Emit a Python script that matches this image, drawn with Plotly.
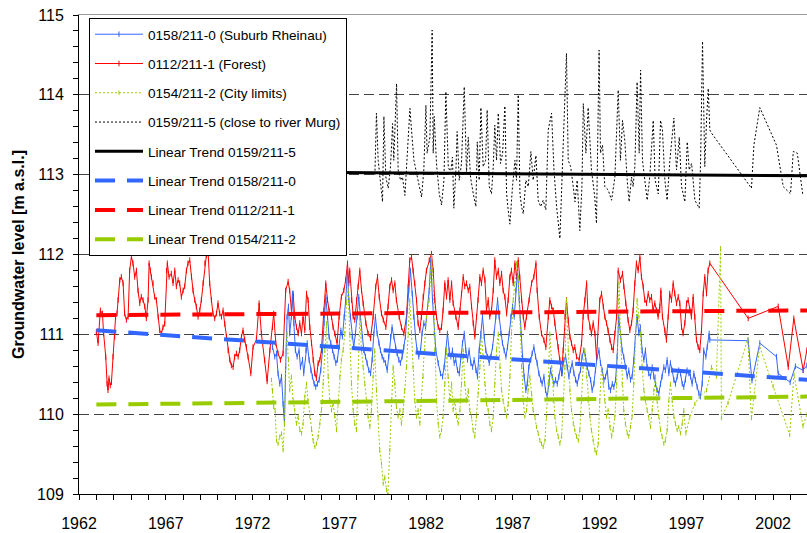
import plotly.graph_objects as go

# ---------------- data ----------------
red_years = [1963.00,1963.10,1963.23,1963.35,1963.42,1963.54,1963.62,1963.67,1963.73,1963.80,1963.87,1963.96,
 1964.06,1964.11,1964.19,1964.25,1964.35,1964.44,1964.54,1964.63,1964.73,1964.83,1964.92,
 1965.02,1965.11,1965.21,1965.31,1965.40,1965.50,1965.59,1965.69,1965.79,1965.88,1965.98,
 1966.04,1966.11,1966.17,1966.27,1966.36,1966.46,1966.56,1966.65,1966.75,1966.84,1966.94,
 1967.04,1967.09,1967.19,1967.32,1967.42,1967.52,1967.61,1967.71,1967.80,1967.90,
 1968.00,1968.09,1968.19,1968.28,1968.38,1968.48,1968.57,1968.67,1968.76,1968.86,1968.96,
 1969.05,1969.15,1969.25,1969.34,1969.44,1969.53,1969.63,1969.72,1969.82,1969.92,
 1970.01,1970.11,1970.21,1970.30,1970.40,1970.49,1970.59,1970.69,1970.78,1970.88,1970.97,
 1971.07,1971.17,1971.26,1971.36,1971.45,1971.55,1971.65,1971.74,1971.90,
 1972.03,1972.22,1972.38,1972.51,1972.70,1972.84,1973.00,1973.15,1973.22,1973.34,1973.47,1973.61,1973.76,1973.91,
 1974.05,1974.14,1974.24,1974.34,1974.43,1974.53,1974.63,1974.72,1974.82,1974.91,
 1975.01,1975.11,1975.20,1975.30,1975.40,1975.49,1975.59,1975.68,1975.78,1975.88,1975.97,
 1976.11,1976.22,1976.32,1976.41,1976.55,1976.64,1976.74,1976.87,1976.99,
 1977.12,1977.26,1977.37,1977.47,1977.55,1977.60,1977.70,1977.80,1977.89,1977.99,
 1978.08,1978.18,1978.28,1978.37,1978.53,1978.66,1978.80,1978.95,
 1979.10,1979.20,1979.30,1979.43,1979.53,1979.68,1979.81,1979.91,
 1980.01,1980.10,1980.20,1980.29,1980.45,1980.58,1980.72,1980.87,1980.97,
 1981.06,1981.16,1981.25,1981.35,1981.45,1981.54,1981.64,1981.73,1981.83,1981.93,
 1982.02,1982.18,1982.31,1982.41,1982.50,1982.60,1982.70,1982.79,1982.89,1982.98,
 1983.08,1983.18,1983.27,1983.37,1983.47,1983.56,1983.71,1983.85,1983.95,
 1984.04,1984.14,1984.23,1984.33,1984.43,1984.52,1984.62,1984.71,1984.81,1984.91,
 1985.00,1985.10,1985.19,1985.29,1985.39,1985.48,1985.58,1985.67,1985.77,1985.87,1985.96,
 1986.06,1986.16,1986.25,1986.35,1986.44,1986.54,1986.64,1986.73,1986.83,1986.92,
 1987.02,1987.12,1987.21,1987.31,1987.40,1987.50,1987.60,1987.69,1987.79,1987.94,
 1988.08,1988.21,1988.33,1988.40,1988.52,1988.65,1988.79,1988.90,
 1989.04,1989.13,1989.23,1989.33,1989.42,1989.52,1989.61,1989.71,1989.81,1989.90,
 1990.00,1990.09,1990.19,1990.29,1990.38,1990.48,1990.57,1990.67,1990.82,1990.96,
 1991.05,1991.15,1991.25,1991.34,1991.44,1991.53,1991.63,1991.73,1991.82,
 1992.01,1992.11,1992.21,1992.30,1992.40,1992.49,1992.59,1992.69,1992.78,1992.88,1992.98,
 1993.07,1993.20,1993.32,1993.39,1993.51,1993.64,1993.74,1993.84,1993.93,
 1994.03,1994.12,1994.22,1994.32,1994.41,1994.51,1994.60,1994.70,1994.80,1994.89,1994.99,
 1995.08,1995.18,1995.28,1995.37,1995.47,1995.53,1995.62,1995.76,1995.85,1995.95,
 1996.04,1996.14,1996.24,1996.33,1996.43,1996.53,1996.62,1996.72,1996.81,1996.91,
 1997.01,1997.10,1997.20,1997.29,1997.39,1997.49,1997.58,1997.68,1997.77,1997.87,1997.97,
 1998.06,1998.16,1998.25,1998.35,
 2000.56,2002.29,2002.87,2003.19,2003.73,2003.94]
red_vals = [111.03,110.89,111.30,111.26,111.01,110.72,110.38,110.30,110.45,110.36,110.40,110.72,
 110.97,111.22,111.26,111.43,111.68,111.72,111.64,111.26,111.18,111.22,111.80,
 111.97,111.89,111.72,111.80,111.55,111.39,111.47,111.43,111.35,111.20,111.43,
 111.89,111.80,111.72,111.64,111.47,111.43,111.22,111.05,111.01,111.09,111.13,
 111.80,111.89,111.72,111.76,111.64,111.80,111.60,111.68,111.64,111.47,
 111.55,111.60,111.80,111.89,111.93,111.72,111.55,111.43,111.35,111.22,111.30,
 111.43,111.64,111.89,111.99,112.03,111.64,111.43,111.26,111.20,111.26,
 111.39,111.26,111.22,111.30,111.13,110.97,110.80,110.68,110.61,110.59,110.72,
 110.76,110.72,110.80,110.97,111.05,110.93,110.84,110.72,110.51,
 110.84,110.93,111.39,111.01,110.68,110.41,110.80,111.09,111.26,110.89,110.76,110.68,110.76,111.55,
 111.66,111.55,111.30,111.51,111.22,111.09,111.01,111.14,111.01,111.22,
 111.05,111.51,111.43,111.09,110.89,110.68,110.51,110.45,110.64,110.68,110.80,
 111.30,111.64,111.43,111.30,111.22,111.09,111.01,110.89,111.22,
 111.47,111.55,111.68,111.89,111.64,111.80,111.43,111.22,111.18,111.43,
 111.60,111.80,111.55,111.39,111.14,111.01,110.95,111.22,
 111.60,111.72,111.47,111.26,111.18,111.09,111.35,111.60,
 111.68,111.55,111.64,111.43,111.22,111.09,111.01,111.22,111.60,
 111.93,111.97,111.80,111.64,111.43,111.14,111.05,111.22,111.47,111.64,
 111.80,111.93,112.01,111.80,111.43,111.22,111.09,111.05,111.09,111.30,
 111.64,111.47,111.68,111.43,111.64,111.39,111.22,111.09,111.30,
 111.51,111.72,111.60,111.64,111.55,111.60,111.35,111.14,110.97,111.22,
 111.43,111.72,111.64,111.80,111.68,111.30,111.43,111.22,111.30,111.55,111.93,
 111.72,111.80,111.64,111.76,111.55,111.47,111.26,111.43,111.72,111.80,
 111.64,111.89,111.72,111.93,111.72,111.43,111.22,111.09,111.22,111.43,
 111.64,111.72,111.89,111.55,111.22,111.01,110.93,110.84,
 111.22,111.43,111.35,111.30,111.14,110.97,110.84,110.68,110.51,110.80,
 111.22,111.43,111.18,110.97,110.89,110.80,110.84,110.72,110.68,110.89,
 111.22,111.43,111.64,111.22,111.09,111.01,111.14,111.01,110.70,
 111.43,111.51,111.35,111.22,111.14,111.05,110.93,110.84,110.80,111.01,111.22,
 111.80,111.68,111.76,111.60,111.39,111.18,111.05,111.14,111.30,
 111.64,111.89,111.80,111.97,111.72,111.60,111.43,111.39,111.51,111.43,111.47,
 111.30,111.39,111.30,111.22,111.35,111.55,111.22,111.05,110.93,111.22,
 111.51,111.43,111.64,111.51,111.39,111.47,111.39,111.09,111.01,111.14,
 111.39,111.43,111.30,111.22,111.47,111.22,110.93,110.84,110.80,111.05,111.51,
 111.72,111.51,111.80,111.89,
 111.20,111.35,110.59,111.20,110.55,110.80]

blue_years = [1973.15,1973.28,1973.38,1973.47,1973.57,1973.67,1973.76,1973.84,1973.91,1973.99,
 1974.07,1974.14,1974.24,1974.30,1974.38,1974.47,1974.57,1974.68,1974.76,1974.88,1974.95,
 1975.07,1975.15,1975.26,1975.36,1975.45,1975.55,1975.64,1975.74,1975.84,1975.93,
 1976.03,1976.12,1976.22,1976.32,1976.41,1976.51,1976.61,1976.70,1976.80,1976.89,1976.99,
 1977.09,1977.18,1977.28,1977.37,1977.47,1977.55,1977.64,1977.74,1977.83,1977.93,
 1978.03,1978.12,1978.22,1978.32,1978.41,1978.51,1978.60,1978.70,1978.80,1978.89,1978.99,
 1979.08,1979.18,1979.28,1979.37,1979.47,1979.56,1979.66,1979.76,1979.85,1979.95,
 1980.04,1980.14,1980.24,1980.33,1980.43,1980.52,1980.62,1980.72,1980.81,1980.91,
 1981.00,1981.10,1981.20,1981.29,1981.39,1981.48,1981.58,1981.68,1981.77,1981.87,1981.97,
 1982.18,1982.27,1982.37,1982.47,1982.56,1982.70,1982.83,1982.95,
 1983.04,1983.14,1983.23,1983.33,1983.43,1983.52,1983.62,1983.71,1983.81,1983.91,
 1984.00,1984.10,1984.20,1984.29,1984.39,1984.48,1984.58,1984.68,1984.77,1984.87,1984.96,
 1985.06,1985.16,1985.25,1985.35,1985.44,1985.54,1985.64,1985.73,1985.83,1985.92,
 1986.02,1986.12,1986.21,1986.31,1986.40,1986.50,1986.60,1986.69,1986.79,1986.88,1986.98,
 1987.08,1987.17,1987.27,1987.37,1987.46,1987.56,1987.65,1987.75,1987.83,1987.92,
 1988.02,1988.11,1988.21,1988.31,1988.40,1988.50,1988.60,1988.69,1988.79,1988.88,1988.98,
 1989.08,1989.17,1989.27,1989.36,1989.46,1989.56,1989.65,1989.75,1989.84,1989.94,
 1990.04,1990.13,1990.23,1990.32,1990.42,1990.52,1990.61,1990.71,1990.80,1990.90,1990.99,
 1991.09,1991.19,1991.28,1991.38,1991.48,1991.57,1991.67,1991.76,1991.86,1991.96,
 1992.05,1992.15,1992.25,1992.34,1992.44,1992.53,1992.63,1992.73,1992.82,1992.92,
 1993.01,1993.10,1993.20,1993.30,1993.39,1993.49,1993.59,1993.68,1993.78,1993.87,1993.97,
 1994.07,1994.16,1994.26,1994.35,1994.45,1994.55,1994.64,1994.74,1994.83,1994.93,
 1995.03,1995.12,1995.22,1995.31,1995.41,1995.51,1995.60,1995.70,1995.79,1995.89,1995.99,
 1996.08,1996.18,1996.28,1996.37,1996.47,1996.56,1996.66,1996.76,1996.85,1996.95,
 1997.04,1997.14,1997.24,1997.33,1997.43,1997.52,1997.62,1997.72,1997.81,1997.91,
 1998.00,1998.12,1998.20,1998.31,1998.35,
 2000.56,2000.78,2001.23,2002.19,2002.29,2002.98,2003.28,2003.72,2003.94]
blue_vals = [110.84,110.72,110.76,110.51,110.38,110.47,110.13,109.88,110.59,111.22,
 111.35,111.01,111.22,111.51,111.14,110.80,110.72,110.80,110.59,110.68,110.51,
 110.80,110.89,110.68,110.55,110.47,110.38,110.34,110.38,110.43,110.55,
 110.80,111.14,111.47,111.22,110.97,110.89,110.80,110.72,110.64,110.68,110.84,
 111.05,110.97,111.22,111.43,111.80,111.43,111.22,110.97,110.84,111.01,
 111.22,111.47,111.22,110.97,110.80,110.72,110.64,110.55,110.51,110.68,111.01,
 111.22,111.01,110.89,110.80,110.72,110.68,110.64,110.55,110.72,110.97,
 111.09,110.97,110.84,110.76,110.68,110.64,110.72,110.84,110.97,111.30,
 111.55,111.80,111.51,111.22,110.97,110.80,110.72,110.80,111.01,111.14,111.09,
 111.55,111.93,111.43,111.01,110.80,110.64,110.51,110.47,
 110.59,110.80,111.01,110.80,110.72,110.80,110.64,110.68,110.55,110.51,
 110.72,110.89,111.01,110.80,110.68,110.80,110.64,110.59,110.68,110.55,110.47,
 110.80,111.01,111.22,110.97,110.80,110.72,110.64,110.72,110.84,111.01,
 111.22,111.43,111.22,111.01,110.89,110.80,110.72,110.84,111.01,111.22,111.35,
 111.22,111.55,111.80,111.43,111.01,110.72,110.47,110.30,110.38,110.59,
 110.68,110.76,110.84,110.72,110.64,110.51,110.43,110.38,110.47,110.30,110.22,
 110.38,110.55,110.47,110.38,110.43,110.38,110.47,110.59,110.51,110.68,
 110.72,110.59,110.47,110.55,110.64,110.51,110.43,110.38,110.47,110.55,110.72,
 110.80,110.72,110.59,110.51,110.43,110.30,110.38,110.55,110.72,110.80,
 110.64,110.55,110.43,110.47,110.55,110.34,110.30,110.38,110.34,110.43,
 110.72,111.22,111.01,110.80,110.72,110.59,110.47,110.55,110.43,110.47,110.68,
 111.01,111.22,111.01,111.09,110.80,110.68,110.80,110.59,110.51,110.47,
 110.59,110.47,110.38,110.30,110.26,110.38,110.47,110.59,110.55,110.68,110.51,
 110.64,110.55,110.43,110.38,110.47,110.55,110.51,110.38,110.34,110.43,
 110.55,110.51,110.47,110.38,110.51,110.43,110.34,110.26,110.22,110.38,
 110.80,110.72,110.84,111.01,110.93,
 110.92,110.42,110.89,110.72,110.51,110.40,110.60,110.55,110.61]

green_years = [1973.09,1973.15,1973.22,1973.30,1973.38,1973.47,1973.57,1973.67,1973.76,1973.84,1973.91,1973.99,
 1974.07,1974.14,1974.24,1974.34,1974.43,1974.53,1974.63,1974.72,1974.82,1974.91,
 1975.01,1975.11,1975.20,1975.30,1975.40,1975.49,1975.59,1975.68,1975.78,1975.88,1975.97,
 1976.07,1976.16,1976.26,1976.36,1976.45,1976.55,1976.64,1976.74,1976.84,1976.93,
 1977.03,1977.12,1977.22,1977.32,1977.41,1977.51,1977.60,1977.70,1977.80,1977.89,1977.99,
 1978.08,1978.18,1978.28,1978.37,1978.47,1978.56,1978.66,1978.76,1978.85,1978.95,
 1979.04,1979.14,1979.24,1979.33,1979.43,1979.53,1979.62,1979.72,1979.80,1979.91,
 1980.01,1980.10,1980.20,1980.29,1980.39,1980.49,1980.58,1980.68,1980.77,1980.87,1980.97,
 1981.06,1981.16,1981.25,1981.35,1981.45,1981.54,1981.64,1981.73,1981.83,1981.93,1982.02,
 1982.18,1982.31,1982.41,1982.50,1982.60,1982.70,1982.79,1982.89,1982.98,
 1983.08,1983.18,1983.27,1983.37,1983.47,1983.56,1983.66,1983.75,1983.85,1983.95,
 1984.04,1984.14,1984.23,1984.33,1984.43,1984.52,1984.62,1984.71,1984.81,1984.91,
 1985.00,1985.10,1985.19,1985.29,1985.39,1985.48,1985.58,1985.67,1985.77,1985.87,1985.96,
 1986.06,1986.16,1986.25,1986.35,1986.44,1986.54,1986.64,1986.73,1986.83,1986.92,
 1987.02,1987.12,1987.21,1987.31,1987.40,1987.50,1987.60,1987.69,1987.79,1987.88,1987.98,
 1988.08,1988.17,1988.27,1988.36,1988.46,1988.56,1988.65,1988.75,1988.85,1988.94,
 1989.04,1989.13,1989.23,1989.33,1989.42,1989.52,1989.61,1989.71,1989.81,1989.90,
 1990.00,1990.09,1990.19,1990.29,1990.38,1990.48,1990.57,1990.67,1990.77,1990.86,1990.96,
 1991.05,1991.15,1991.25,1991.34,1991.44,1991.53,1991.63,1991.73,1991.82,1991.92,
 1992.01,1992.11,1992.21,1992.30,1992.40,1992.49,1992.59,1992.69,1992.78,1992.88,1992.98,
 1993.07,1993.12,1993.20,1993.30,1993.39,1993.49,1993.59,1993.68,1993.78,1993.87,1993.97,
 1994.07,1994.16,1994.26,1994.35,1994.45,1994.55,1994.64,1994.74,1994.83,1994.93,
 1995.03,1995.12,1995.22,1995.31,1995.41,1995.51,1995.60,1995.70,1995.79,1995.89,1995.99,
 1996.08,1996.18,1996.28,1996.37,1996.47,1996.56,1996.66,1996.76,1996.85,1996.97,
 1997.20,1997.49,1997.77,1998.16,1998.45,1998.73,1998.97,1999.02,1999.40,
 2000.54,2000.75,2001.22,2002.00,2002.95,2003.20,2003.72,2003.95]
green_vals = [110.43,110.30,110.09,110.05,109.67,109.63,109.72,109.76,109.55,109.88,110.80,111.01,
 110.68,110.30,110.47,110.17,110.05,109.88,109.97,109.80,109.76,109.88,
 110.22,110.38,110.17,109.97,109.80,109.67,109.59,109.63,109.72,109.88,110.05,
 110.38,110.80,111.14,110.47,110.17,110.05,110.13,109.97,109.80,110.13,
 110.47,110.68,110.80,111.01,111.39,111.55,111.01,110.38,110.05,109.88,109.80,
 110.47,111.22,110.80,110.59,110.38,110.17,109.97,109.84,110.05,110.47,
 110.80,110.30,109.97,109.55,109.38,109.13,109.21,109.05,109.00,109.55,
 110.17,110.59,110.38,110.09,109.97,110.05,109.88,110.05,110.30,110.59,111.01,
 111.43,111.01,110.59,110.17,109.97,110.05,109.88,110.17,110.47,110.80,111.22,
 111.43,111.97,111.64,110.80,110.17,109.88,109.72,109.80,109.97,
 110.38,110.80,110.47,110.17,110.38,110.05,110.17,109.97,109.88,110.05,
 110.38,110.80,110.38,110.17,110.30,110.05,109.97,109.80,109.72,109.97,
 110.26,110.59,111.01,110.72,110.38,110.13,110.05,109.88,109.80,109.97,110.38,
 110.80,111.01,110.59,110.30,110.17,110.05,109.97,110.13,110.47,111.01,
 111.43,111.64,111.89,111.72,111.22,110.59,110.17,109.97,110.05,110.30,110.47,
 110.26,110.05,109.97,109.84,109.76,109.67,109.63,109.59,109.67,109.97,
 110.38,111.01,110.59,110.17,109.97,109.80,109.72,109.63,109.72,110.17,
 110.59,111.43,110.80,110.30,110.05,109.88,109.80,109.72,109.67,109.80,110.17,
 110.59,110.80,110.47,110.17,109.97,109.80,109.67,109.55,109.51,109.63,
 110.17,110.59,110.38,110.17,109.97,110.05,109.84,109.72,109.80,109.97,110.38,
 111.43,111.64,111.01,110.38,110.05,109.88,109.76,109.72,109.84,109.97,110.38,
 111.01,111.43,111.22,111.01,110.59,110.30,110.17,110.05,109.97,109.84,
 110.05,110.30,110.47,110.17,109.97,109.80,109.72,109.63,109.67,109.80,110.17,
 110.38,110.17,109.97,109.88,109.80,109.84,109.76,109.88,110.05,109.76,
 109.97,110.13,110.22,110.30,110.59,110.47,112.08,109.95,110.14,
 110.94,109.95,110.85,110.35,109.74,110.50,109.85,110.00]

black_years = [1979.05,1979.14,1979.24,1979.34,1979.49,1979.57,1979.68,1979.82,1979.95,
 1980.07,1980.14,1980.30,1980.39,1980.53,1980.64,1980.78,1980.91,
 1981.07,1981.16,1981.30,1981.45,1981.60,1981.74,1981.87,1981.99,
 1982.06,1982.22,1982.35,1982.41,1982.47,1982.60,1982.76,1982.89,
 1983.03,1983.14,1983.28,1983.41,1983.52,1983.60,1983.72,1983.79,1983.91,
 1984.04,1984.20,1984.33,1984.43,1984.56,1984.72,1984.87,1984.95,
 1985.06,1985.16,1985.29,1985.43,1985.52,1985.64,1985.77,1985.87,1985.96,
 1986.06,1986.16,1986.29,1986.41,1986.54,1986.64,1986.73,1986.83,1986.98,
 1987.12,1987.21,1987.31,1987.41,1987.50,1987.60,1987.75,1987.89,
 1988.04,1988.17,1988.33,1988.46,1988.60,1988.75,1988.90,
 1989.04,1989.23,1989.37,1989.52,1989.71,1989.85,1989.96,
 1990.09,1990.19,1990.33,1990.48,1990.58,1990.71,1990.86,1990.98,
 1991.06,1991.21,1991.34,1991.53,1991.72,1991.82,1991.97,
 1992.05,1992.17,1992.30,1992.49,1992.69,1992.88,
 1993.07,1993.20,1993.32,1993.45,1993.59,1993.70,1993.84,1993.93,
 1994.03,1994.16,1994.28,1994.36,1994.47,1994.61,1994.74,1994.89,
 1995.09,1995.20,1995.38,1995.51,1995.62,1995.76,1995.89,
 1996.05,1996.28,1996.43,1996.59,1996.72,1996.91,
 1997.05,1997.16,1997.30,1997.49,1997.74,1997.82,1997.93,
 1998.06,1998.16,1998.26,1998.35,1998.45,
 2000.75,2000.89,2001.23,2002.19,2002.58,2003.00,2003.16,2003.39,2003.70]
black_vals = [113.00,113.77,113.18,112.93,112.66,113.73,112.97,112.83,113.10,
 113.64,113.18,114.14,113.06,112.93,112.97,112.74,113.27,
 113.83,113.56,113.18,113.02,112.85,112.72,113.06,113.87,
 113.27,113.47,114.81,113.27,113.73,113.14,112.76,112.62,
 112.93,114.04,113.10,113.02,113.22,112.58,113.06,113.54,112.93,
 113.14,114.10,113.02,113.47,112.97,112.76,112.60,113.41,
 112.93,113.84,113.10,113.18,113.81,112.85,112.76,113.10,113.62,
 113.18,113.77,113.14,113.27,113.86,112.76,112.56,112.38,112.85,
 113.18,112.93,114.00,112.76,112.60,112.51,112.93,112.85,
 113.29,112.93,113.24,112.68,112.60,112.68,112.56,
 113.56,113.77,113.06,112.60,112.20,112.97,113.68,
 114.52,113.18,113.10,112.85,112.66,112.93,112.30,112.85,
 113.89,113.27,113.84,113.06,112.72,112.39,114.56,
 113.27,113.37,112.85,112.81,112.68,112.97,
 114.06,113.18,113.68,113.43,112.93,112.66,112.97,112.85,
 113.10,114.16,113.27,114.31,113.18,112.93,112.68,112.97,
 113.68,112.93,112.76,113.68,113.56,112.93,112.68,
 113.18,113.71,113.06,113.47,112.85,112.66,
 113.41,113.06,113.14,112.68,112.58,113.18,114.67,
 113.10,113.68,114.08,113.56,113.52,
 112.83,113.37,113.84,113.37,112.85,112.76,113.29,113.27,112.76]

# linear trends (end points)
trend_black_years = [1975.0, 2004.0]
trend_black_vals = [113.03, 112.985]
trend_years = [1963.0, 2004.0]
trend_blue_vals = [111.05, 110.43]
trend_red_vals = [111.24, 111.30]
trend_green_vals = [110.12, 110.22]

x_ticks = list(range(1962, 2003, 5))
y_ticks = [109, 110, 111, 112, 113, 114, 115]

# ---------------- styles ----------------
BLUE = "#3366ff"
RED = "#ff0000"
GREEN = "#99cc00"
BLACK = "#000000"
FONT = "Liberation Sans, Arial, sans-serif"

fig = go.Figure()

fig.add_trace(go.Scatter(x=red_years, y=red_vals, name="0112/211-1 (Forest)",
    mode="lines+markers", line=dict(color=RED, width=1),
    marker=dict(symbol="line-ns", size=4, line=dict(color=RED, width=1)),
    legendgroup="r", legendrank=2))
fig.add_trace(go.Scatter(x=blue_years, y=blue_vals, name="0158/211-0 (Suburb Rheinau)",
    mode="lines+markers", line=dict(color=BLUE, width=1),
    marker=dict(symbol="line-ns", size=4, line=dict(color=BLUE, width=1)),
    legendgroup="b", legendrank=1))
fig.add_trace(go.Scatter(x=green_years, y=green_vals, name="0154/211-2 (City limits)",
    mode="lines+markers", line=dict(color=GREEN, width=1, dash="2px,2px"),
    marker=dict(symbol="line-ns", size=3, line=dict(color=GREEN, width=1)),
    legendgroup="g", legendrank=3))
fig.add_trace(go.Scatter(x=black_years, y=black_vals, name="0159/211-5 (close to river Murg)",
    mode="lines", line=dict(color=BLACK, width=1, dash="2px,2px"),
    legendgroup="k", legendrank=4))

fig.add_trace(go.Scatter(x=trend_black_years, y=trend_black_vals, name="Linear Trend 0159/211-5",
    mode="lines", line=dict(color=BLACK, width=3), legendgroup="tk", legendrank=5))
fig.add_trace(go.Scatter(x=trend_years, y=trend_blue_vals, name="Linear Trend 0158/211-0",
    mode="lines", line=dict(color=BLUE, width=4, dash="20px,12px"), legendgroup="tb", legendrank=6))
fig.add_trace(go.Scatter(x=trend_years, y=trend_red_vals, name="Linear Trend 0112/211-1",
    mode="lines", line=dict(color=RED, width=4, dash="20px,12px"), legendgroup="tr", legendrank=7))
fig.add_trace(go.Scatter(x=trend_years, y=trend_green_vals, name="Linear Trend 0154/211-2",
    mode="lines", line=dict(color=GREEN, width=4, dash="20px,12px"), legendgroup="tg", legendrank=8))

# invisible trace to activate the top border axis
fig.add_trace(go.Scatter(x=[1962], y=[None], xaxis="x2", showlegend=False, hoverinfo="skip"))

fig.update_layout(
    width=807, height=533,
    margin=dict(l=79, r=0, t=15, b=39, autoexpand=False),
    paper_bgcolor="white", plot_bgcolor="white",
    font=dict(family=FONT, color="black", size=16),
    showlegend=True,
    legend=dict(x=0.0137, y=0.994, xanchor="left", yanchor="top",
                bgcolor="white", bordercolor="black", borderwidth=1,
                font=dict(family=FONT, size=13.6, color="black"),
                itemwidth=48, tracegroupgap=8.6, traceorder="grouped"),
    xaxis=dict(range=[1962, 2003.95], tickvals=x_ticks, ticktext=[str(v) for v in x_ticks],
               showgrid=False, zeroline=False, showline=True, linecolor="black", linewidth=1,
               ticks="outside", ticklen=5, tickcolor="black", ticklabelstandoff=10, automargin=False,
               minor=dict(dtick=1, tick0=1962, ticks="outside", ticklen=5, tickcolor="black", showgrid=False),
               tickfont=dict(size=16)),
    xaxis2=dict(overlaying="x", side="top", matches="x", showline=True, linecolor="#999999",
                linewidth=1, showticklabels=False, ticks="", showgrid=False, zeroline=False,
                automargin=False),
    yaxis=dict(range=[109, 115], tickvals=y_ticks, ticktext=[str(v) for v in y_ticks],
               showgrid=True, gridcolor="#444444", gridwidth=1, griddash="10px,5px",
               zeroline=False, showline=True, linecolor="black", linewidth=1,
               ticks="outside", ticklen=5, tickcolor="black", ticklabelstandoff=6, automargin=False,
               minor=dict(dtick=0.2, tick0=109, ticks="outside", ticklen=5, tickcolor="black", showgrid=False),
               tickfont=dict(size=16),
               title=dict(text="<b>Groundwater level [m a.s.l.]</b>", font=dict(size=16), standoff=8)),
)

fig.write_html("out.html", config={"displayModeBar": False},
               post_script="document.body.style.margin='0px';document.body.style.padding='0px';")
